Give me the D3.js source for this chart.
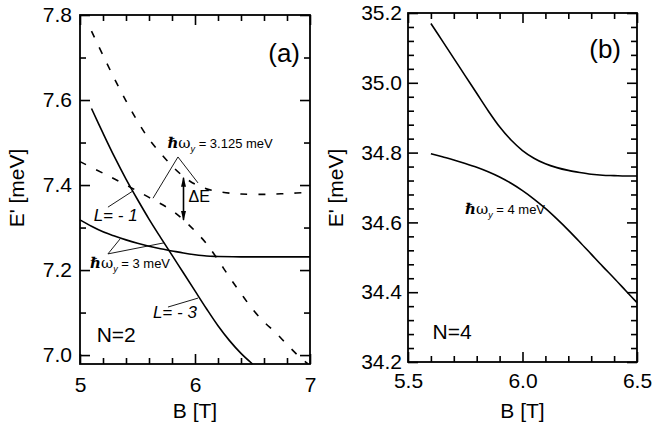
<!DOCTYPE html>
<html>
<head>
<meta charset="utf-8">
<script src="https://cdn.jsdelivr.net/npm/d3@7"></script>
<style>
  html, body { margin: 0; padding: 0; background: #fff; }
  svg text { font-family: "Liberation Sans", Arial, Helvetica, sans-serif; fill: #000; }
</style>
</head>
<body>
<svg id="chart" width="652" height="426"></svg>
<script>
// ---- Panel (a): N=2 levels ----
const aSolidSteepB = [5.10, 5.20, 5.30, 5.40, 5.50, 5.60, 5.70, 5.80, 5.90, 6.00, 6.10, 6.20, 6.30, 6.40, 6.50];
const aSolidSteepE = [7.580, 7.522, 7.466, 7.414, 7.366, 7.320, 7.277, 7.235, 7.193, 7.151, 7.109, 7.069, 7.034, 7.004, 6.979];

const aSolidFlatB = [5.00, 5.10, 5.20, 5.30, 5.40, 5.50, 5.60, 5.70, 5.80, 5.90, 6.00, 6.10, 6.20, 6.40, 6.60, 6.80, 7.00];
const aSolidFlatE = [7.318, 7.303, 7.290, 7.280, 7.271, 7.263, 7.256, 7.250, 7.245, 7.240, 7.236, 7.233, 7.232, 7.231, 7.231, 7.231, 7.231];

const aDashUpperB = [5.10, 5.20, 5.30, 5.40, 5.50, 5.60, 5.70, 5.80, 5.90, 6.00, 6.10, 6.20, 6.30, 6.40, 6.60, 6.80, 7.00];
const aDashUpperE = [7.762, 7.705, 7.650, 7.598, 7.550, 7.508, 7.475, 7.445, 7.420, 7.402, 7.391, 7.385, 7.381, 7.379, 7.378, 7.380, 7.383];

const aDashLowerB = [5.00, 5.20, 5.40, 5.60, 5.80, 5.90, 6.00, 6.10, 6.20, 6.30, 6.40, 6.50, 6.60, 6.70, 6.80, 6.90, 6.98];
const aDashLowerE = [7.455, 7.428, 7.400, 7.371, 7.340, 7.318, 7.292, 7.262, 7.224, 7.183, 7.145, 7.108, 7.078, 7.053, 7.025, 6.998, 6.980];

const aXMajor = [5, 6, 7];
const aXMinor = [5.2, 5.4, 5.6, 5.8, 6.2, 6.4, 6.6, 6.8];
const aYMajor = [7.0, 7.2, 7.4, 7.6, 7.8];
const aYMinor = [7.1, 7.3, 7.5, 7.7];

// energy gap marker at B = 5.9 T between the two dashed levels
const gapB = 5.9;
const gapE = [7.318, 7.417];

// ---- Panel (b): N=4 levels ----
const bUpperB = [5.60, 5.65, 5.70, 5.75, 5.80, 5.85, 5.90, 5.95, 6.00, 6.05, 6.10, 6.15, 6.20, 6.25, 6.30, 6.35, 6.40, 6.45, 6.50];
const bUpperE = [35.170, 35.120, 35.070, 35.020, 34.970, 34.920, 34.874, 34.836, 34.806, 34.784, 34.768, 34.757, 34.749, 34.743, 34.738, 34.735, 34.734, 34.733, 34.733];

const bLowerB = [5.60, 5.65, 5.70, 5.75, 5.80, 5.85, 5.90, 5.95, 6.00, 6.05, 6.10, 6.15, 6.20, 6.25, 6.30, 6.35, 6.40, 6.45, 6.50];
const bLowerE = [34.797, 34.788, 34.779, 34.769, 34.758, 34.745, 34.730, 34.712, 34.691, 34.667, 34.640, 34.610, 34.578, 34.544, 34.509, 34.474, 34.440, 34.405, 34.370];

const bXMajor = [5.5, 6.0, 6.5];
const bXMinor = [5.6, 5.7, 5.8, 5.9, 6.1, 6.2, 6.3, 6.4];
const bYMajor = [34.2, 34.4, 34.6, 34.8, 35.0, 35.2];
const bYMinor = [34.24, 34.28, 34.32, 34.36, 34.44, 34.48, 34.52, 34.56, 34.64, 34.68, 34.72, 34.76,
                 34.84, 34.88, 34.92, 34.96, 35.04, 35.08, 35.12, 35.16];

const svg = d3.select("#chart");
const zip = (xs, ys) => xs.map((v, i) => [v, ys[i]]);

// ---- scales ----
const xA = d3.scaleLinear().domain([5, 7]).range([80, 310]);
const yA = d3.scaleLinear().domain([6.979, 7.8]).range([364, 15]);
const xB = d3.scaleLinear().domain([5.5, 6.5]).range([408, 637]);
const yB = d3.scaleLinear().domain([34.2, 35.2]).range([362, 13]);

const MAJ = 10, MIN = 6;

function frame(x, y, cfg) {
  const g = svg.append("g");
  const [x0, x1] = x.range();
  const [y0, y1] = y.range();
  const fontSize = "21px";

  // bottom: labelled major ticks, pointing inward
  g.append("g").attr("transform", `translate(0,${y0})`)
    .call(d3.axisBottom(x).tickValues(cfg.xMajor).tickSize(-MAJ).tickPadding(cfg.xPad).tickFormat(cfg.xFmt));
  g.append("g").attr("transform", `translate(0,${y0})`)
    .call(d3.axisBottom(x).tickValues(cfg.xMinor).tickSize(-MIN).tickFormat(""));
  // top
  g.append("g").attr("transform", `translate(0,${y1})`)
    .call(d3.axisTop(x).tickValues(cfg.xMajor).tickSize(-MAJ).tickFormat(""));
  g.append("g").attr("transform", `translate(0,${y1})`)
    .call(d3.axisTop(x).tickValues(cfg.xMinor).tickSize(-MIN).tickFormat(""));
  // left
  g.append("g").attr("transform", `translate(${x0},0)`)
    .call(d3.axisLeft(y).tickValues(cfg.yMajor).tickSize(-MAJ).tickPadding(cfg.yPad).tickFormat(d3.format(".1f")));
  g.append("g").attr("transform", `translate(${x0},0)`)
    .call(d3.axisLeft(y).tickValues(cfg.yMinor).tickSize(-MIN).tickFormat(""));
  // right
  g.append("g").attr("transform", `translate(${x1},0)`)
    .call(d3.axisRight(y).tickValues(cfg.yMajor).tickSize(-MAJ).tickFormat(""));
  g.append("g").attr("transform", `translate(${x1},0)`)
    .call(d3.axisRight(y).tickValues(cfg.yMinor).tickSize(-MIN).tickFormat(""));

  g.selectAll(".domain").remove();
  g.selectAll(".tick line").attr("stroke", "#000").attr("stroke-width", 1.6);
  g.selectAll(".tick text").style("font-size", fontSize)
    .style("font-family", '"Liberation Sans", Arial, Helvetica, sans-serif');

  g.append("rect")
    .attr("x", x0).attr("y", y1)
    .attr("width", x1 - x0).attr("height", y0 - y1)
    .attr("fill", "none").attr("stroke", "#000").attr("stroke-width", 1.8);

  // axis titles
  g.append("text")
    .attr("x", (x0 + x1) / 2).attr("y", 418)
    .attr("text-anchor", "middle").style("font-size", "21px")
    .text("B [T]");
  g.append("text")
    .attr("transform", `translate(${cfg.yTitleX},188) rotate(-90)`)
    .attr("text-anchor", "middle").style("font-size", "21px")
    .text("E' [meV]");
  return g;
}

frame(xA, yA, { xMajor: aXMajor, xMinor: aXMinor, yMajor: aYMajor, yMinor: aYMinor,
                xFmt: d3.format("d"), xPad: 13, yPad: 8, yTitleX: 24 });
frame(xB, yB, { xMajor: bXMajor, xMinor: bXMinor, yMajor: bYMajor, yMinor: bYMinor,
                xFmt: d3.format(".1f"), xPad: 11, yPad: 6, yTitleX: 343 });

// ---- curves ----
function curve(x, y, pts, dashed) {
  const line = d3.line().x(d => x(d[0])).y(d => y(d[1])).curve(d3.curveCatmullRom);
  svg.append("path")
    .datum(pts)
    .attr("d", line)
    .attr("fill", "none")
    .attr("stroke", "#000")
    .attr("stroke-width", 1.6)
    .attr("stroke-dasharray", dashed ? "7,11" : null);
}

curve(xA, yA, zip(aSolidSteepB, aSolidSteepE), false);
curve(xA, yA, zip(aSolidFlatB, aSolidFlatE), false);
curve(xA, yA, zip(aDashUpperB, aDashUpperE), true);
curve(xA, yA, zip(aDashLowerB, aDashLowerE), true);
curve(xB, yB, zip(bUpperB, bUpperE), false);
curve(xB, yB, zip(bLowerB, bLowerE), false);

// ---- annotations ----
function leader(x, y, pts) {
  svg.append("path")
    .attr("d", d3.line().x(d => x(d[0])).y(d => y(d[1]))(pts))
    .attr("fill", "none").attr("stroke", "#000").attr("stroke-width", 0.9);
}

function hbarLabel(px, py, value) {
  const t = svg.append("text").attr("x", px).attr("y", py).style("font-size", "13px");
  t.append("tspan").style("font-style", "italic").style("font-weight", "bold")
    .style("font-family", '"DejaVu Serif", serif').style("font-size", "15px").text("\u210F");
  t.append("tspan").style("font-family", '"DejaVu Serif", serif').style("font-size", "15px").text("\u03C9");
  t.append("tspan").attr("dy", 4).style("font-size", "9px").style("font-style", "italic").text("y");
  t.append("tspan").attr("dy", -4).text(" = " + value + " meV");
}

function lLabel(px, py, value) {
  const t = svg.append("text").attr("x", px).attr("y", py)
    .style("font-size", "17px").style("font-style", "italic");
  t.append("tspan").text("L");
  t.append("tspan").style("font-style", "normal").text("= - ");
  t.append("tspan").text(value);
}

// panel (a)
hbarLabel(xA(5.76), yA(7.487), "3.125");
leader(xA, yA, [[5.635, 7.369], [5.852, 7.466], [6.026, 7.405]]);

hbarLabel(xA(5.087), yA(7.205), "3");
leader(xA, yA, [[5.348, 7.273], [5.243, 7.238], [5.73, 7.264]]);

lLabel(xA(5.12), yA(7.315), "1");
leader(xA, yA, [[5.243, 7.348], [5.46, 7.386]]);

lLabel(xA(5.635), yA(7.087), "3");
leader(xA, yA, [[5.765, 7.113], [6.026, 7.134]]);

// double-headed gap arrow
const defs = svg.append("defs");
defs.append("marker").attr("id", "head")
  .attr("viewBox", "0 0 10 10").attr("refX", 9).attr("refY", 5)
  .attr("markerWidth", 10).attr("markerHeight", 10)
  .attr("markerUnits", "userSpaceOnUse")
  .attr("orient", "auto-start-reverse")
  .append("path").attr("d", "M0,2.5 L10,5 L0,7.5 Z").attr("fill", "#000");
svg.append("line")
  .attr("x1", xA(gapB)).attr("x2", xA(gapB))
  .attr("y1", yA(gapE[0])).attr("y2", yA(gapE[1]))
  .attr("stroke", "#000").attr("stroke-width", 1.6)
  .attr("marker-start", "url(#head)").attr("marker-end", "url(#head)");
svg.append("text").attr("x", xA(gapB) + 5).attr("y", yA(7.36))
  .style("font-size", "16px").text("\u0394E");

svg.append("text").attr("x", 300).attr("y", 62).attr("text-anchor", "end")
  .style("font-size", "26px").text("(a)");
svg.append("text").attr("x", xA(5.145)).attr("y", yA(7.031))
  .style("font-size", "21px").text("N=2");

// panel (b)
hbarLabel(xB(5.749), yB(34.623), "4");
svg.append("text").attr("x", 621).attr("y", 58).attr("text-anchor", "end")
  .style("font-size", "26px").text("(b)");
svg.append("text").attr("x", xB(5.607)).attr("y", yB(34.265))
  .style("font-size", "21px").text("N=4");
</script>
</body>
</html>
